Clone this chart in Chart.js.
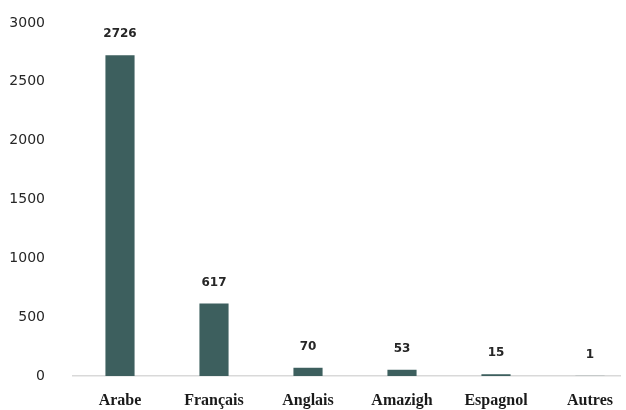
<!DOCTYPE html>
<html>
<head>
<meta charset="utf-8">
<script src="https://cdn.jsdelivr.net/npm/chart.js@4"></script>
<style>
  body { margin: 0; background: #fff; overflow: hidden; }
  #wrap { width: 621px; height: 410px; overflow: hidden; }
</style>
</head>
<body>
<div id="wrap"><canvas id="languesChart" width="640" height="410"></canvas></div>
<script>
// Languages and counts
const langues = ["Arabe", "Français", "Anglais", "Amazigh", "Espagnol", "Autres"];
const effectifs = [2726, 617, 70, 53, 15, 1];
const yTicks = [0, 500, 1000, 1500, 2000, 2500, 3000];

// value labels above bars
const barLabels = {
  id: "barLabels",
  afterDatasetsDraw(chart) {
    const { ctx } = chart;
    const meta = chart.getDatasetMeta(0);
    ctx.save();
    ctx.font = "bold 12px 'DejaVu Sans'";
    ctx.fillStyle = "#262626";
    ctx.textAlign = "center";
    ctx.textBaseline = "middle";
    meta.data.forEach((bar, i) => {
      ctx.fillText(effectifs[i], bar.x, bar.y - 21);
    });
    ctx.restore();
  }
};

const config = {
  type: "bar",
  data: {
    labels: langues,
    datasets: [{
      data: effectifs,
      backgroundColor: "#3d5f5e",
      barPercentage: 0.62,
      categoryPercentage: 0.5,
    }],
  },
  options: {
    responsive: false,
    animation: false,
    layout: { padding: { top: 23, right: 3, left: 0, bottom: 0 } },
    plugins: {
      legend: { display: false },
      tooltip: { enabled: false },
    },
    scales: {
      x: {
        grid: { display: false },
        border: { color: "#d9d9d9", width: 1.5 },
        ticks: {
          color: "#1a1a1a",
          font: { family: "'Liberation Serif'", size: 16, weight: "bold" },
          padding: 7,
        },
        afterFit(scale) { scale.height = 34; },
      },
      y: {
        min: 0,
        max: 3000,
        grid: { display: false },
        border: { display: false },
        afterBuildTicks(scale) { scale.ticks = yTicks.map(v => ({ value: v })); },
        ticks: {
          color: "#262626",
          font: { family: "'DejaVu Sans'", size: 14 },
          padding: 20,
          callback: v => String(v),
        },
        afterFit(scale) {
          scale.width = 73;
          scale.paddingTop = 0;
          scale.paddingBottom = 0;
        },
      },
    },
  },
  plugins: [barLabels],
};

const languesChart = new Chart(document.getElementById("languesChart"), config);
</script>
</body>
</html>
